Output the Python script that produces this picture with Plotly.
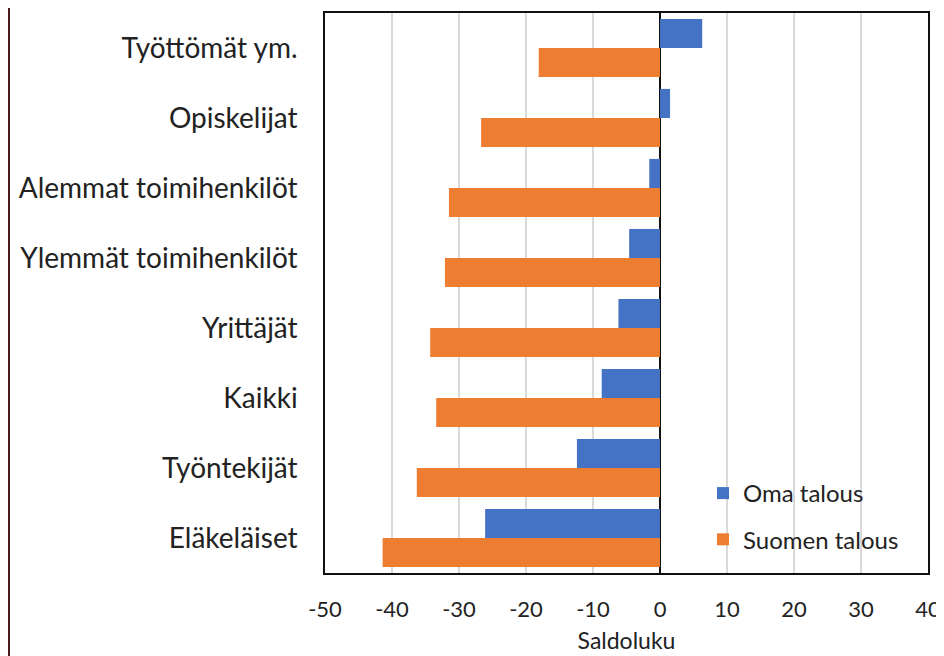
import plotly.graph_objects as go

categories = ["Työttömät ym.", "Opiskelijat", "Alemmat toimihenkilöt",
              "Ylemmät toimihenkilöt", "Yrittäjät", "Kaikki",
              "Työntekijät", "Eläkeläiset"]
oma_talous = [6.3, 1.5, -1.6, -4.6, -6.2, -8.7, -12.4, -26.1]
suomen_talous = [-18.1, -26.7, -31.5, -32.1, -34.3, -33.4, -36.3, -41.4]
x_ticks = [-50, -40, -30, -20, -10, 0, 10, 20, 30, 40]

FONT = "Lato"
OFF = 8  # page body margin
W, H = 944 - OFF, 656 - OFF
L, T = 325 - OFF, 13 - OFF
R = W - (928 - OFF)
B = H - (573 - OFF)
pw, ph = W - L - R, H - T - B

fig = go.Figure()
fig.add_trace(go.Bar(y=categories, x=oma_talous, orientation="h", name="Oma talous",
                     marker=dict(color="#4472C4", line=dict(width=0)), legendgroup="a"))
fig.add_trace(go.Bar(y=categories, x=suomen_talous, orientation="h", name="Suomen talous",
                     marker=dict(color="#ED7D31", line=dict(width=0)), legendgroup="b"))

fig.update_layout(
    width=W, height=H,
    margin=dict(l=L, r=R, t=T, b=B, autoexpand=False),
    paper_bgcolor="white", plot_bgcolor="white",
    barmode="group", bargap=0.17, bargroupgap=0,
    font=dict(family=FONT, color="#222222"),
    legend=dict(x=(703 - 325) / pw, y=(573 - 471) / ph, xanchor="left", yanchor="top",
                font=dict(size=24, family=FONT, color="#222222"),
                bgcolor="rgba(0,0,0,0)", traceorder="grouped", tracegroupgap=12,
                itemwidth=30),
    xaxis=dict(range=[-50, 40], tickvals=x_ticks, ticktext=[str(v) for v in x_ticks],
               automargin=False,
               showgrid=True, gridcolor="#D9D9D9", gridwidth=1.5,
               zeroline=True, zerolinecolor="#111111", zerolinewidth=1.5,
               showline=True, linecolor="#111111", linewidth=1.5, mirror=True,
               tickfont=dict(size=22, family=FONT, color="#222222"),
               ticks="", ticklabelstandoff=16,
               title=dict(text="Saldoluku", font=dict(size=23, family=FONT, color="#222222"),
                          standoff=12)),
    yaxis=dict(autorange="reversed", showgrid=False, automargin=False,
               showline=True, linecolor="#111111", linewidth=1.5, mirror=True,
               tickfont=dict(size=28, family=FONT, color="#222222"),
               ticks="", ticklabelstandoff=20),
    showlegend=True,
)

fig.add_shape(type="line", xref="paper", yref="paper",
              x0=(1 - L) / pw, x1=(1 - L) / pw,
              y0=-B / ph, y1=1 + T / ph,
              line=dict(color="#4a1c1c", width=2))

fig.write_html("out.html")
